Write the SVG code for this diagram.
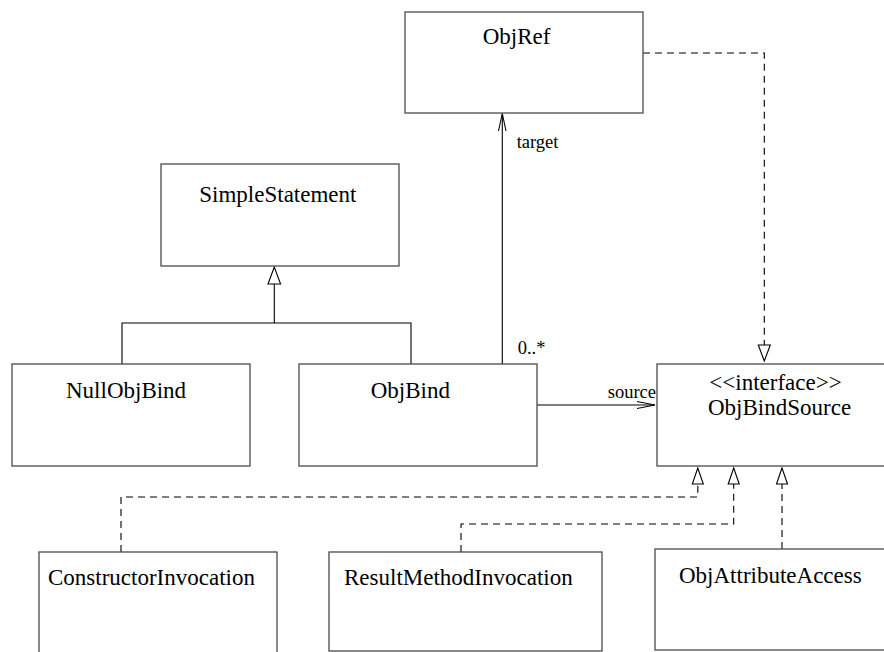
<svg xmlns="http://www.w3.org/2000/svg" width="884" height="652" viewBox="0 0 884 652">
<style>
.box{fill:#fff;stroke:#4a4a4a;stroke-width:1.3}
.t{font-family:"Liberation Serif","Times New Roman",serif;font-size:23px;fill:#000}
.l{font-family:"Liberation Serif","Times New Roman",serif;font-size:18.5px;fill:#000}
.ln{fill:none;stroke:#000;stroke-width:1.1}
.dash{fill:none;stroke:#000;stroke-width:1.1;stroke-dasharray:7,5}
.tri{fill:#fff;stroke:#000;stroke-width:1.1}
</style>
<rect width="884" height="652" fill="#fff"/>
<g id="connectors">
  <path class="ln" d="M122,364 V323 H411 V364 M274.3,323 V284"/>
  <polygon class="tri" points="274.3,267 268,284 280.6,284"/>
  <path class="ln" d="M502.3,364 V113.5"/>
  <polyline class="ln" points="498.5,131 502.3,113.5 506,131"/>
  <path class="ln" d="M537,405 H655"/>
  <polyline class="ln" points="637,401.5 655,405 637,408.5"/>
  <path class="dash" d="M643,53 H764.3 V345"/>
  <polygon class="tri" points="764.3,361 758.3,345 770.3,345"/>
  <path class="dash" d="M121,552 V497 H697.8 V484"/>
  <polygon class="tri" points="697.8,468 692.3,484 703.3,484"/>
  <path class="dash" d="M461,552 V524 H733.7 V484"/>
  <polygon class="tri" points="733.7,468 728.2,484 739.2,484"/>
  <path class="dash" d="M782,549 V484"/>
  <polygon class="tri" points="782,468 776.5,484 787.5,484"/>
  <text class="l" x="516.7" y="148">target</text>
  <text class="l" x="517.7" y="354">0..*</text>
  <text class="l" x="607.7" y="398">source</text>
</g>
<g id="ObjRef">
  <rect class="box" x="405" y="12" width="238" height="101"/>
  <text class="t" x="482.7" y="44">ObjRef</text>
</g>
<g id="SimpleStatement">
  <rect class="box" x="161" y="164" width="238" height="102"/>
  <text class="t" x="199.3" y="202">SimpleStatement</text>
</g>
<g id="NullObjBind">
  <rect class="box" x="12" y="364" width="238" height="102"/>
  <text class="t" x="66" y="398">NullObjBind</text>
</g>
<g id="ObjBind">
  <rect class="box" x="299" y="364" width="238" height="102"/>
  <text class="t" x="370.7" y="398">ObjBind</text>
</g>
<g id="ObjBindSource">
  <rect class="box" x="657" y="364" width="260" height="102"/>
  <text class="t" x="709.3" y="390">&lt;&lt;interface&gt;&gt;</text>
  <text class="t" x="708" y="415">ObjBindSource</text>
</g>
<g id="ConstructorInvocation">
  <rect class="box" x="39" y="552" width="238" height="140"/>
  <text class="t" x="48" y="585">ConstructorInvocation</text>
</g>
<g id="ResultMethodInvocation">
  <rect class="box" x="329" y="552" width="273" height="99"/>
  <text class="t" x="344" y="585">ResultMethodInvocation</text>
</g>
<g id="ObjAttributeAccess">
  <rect class="box" x="655" y="549" width="260" height="101"/>
  <text class="t" x="679" y="583">ObjAttributeAccess</text>
</g>
</svg>
